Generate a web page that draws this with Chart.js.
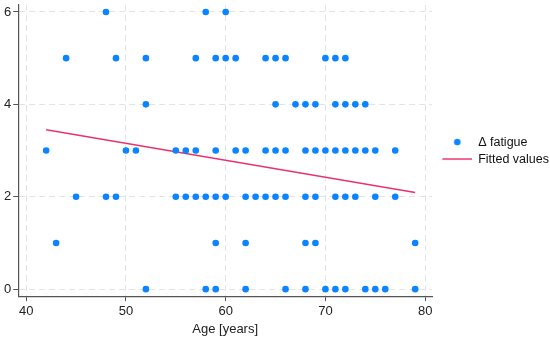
<!DOCTYPE html>
<html>
<head>
<meta charset="utf-8">
<script src="https://cdn.jsdelivr.net/npm/chart.js@4.4.1/dist/chart.umd.min.js"></script>
<style>
  html, body { margin: 0; padding: 0; background: #fff; }
  #wrap { width: 550px; height: 337px; }
</style>
</head>
<body>
<div id="wrap"><canvas id="c" width="550" height="337"></canvas></div>
<script>
// ages per fatigue-change level
const ages0 = [52, 58, 59, 62, 66, 68, 70, 71, 72, 74, 75, 76, 79];
const ages1 = [43, 59, 62, 68, 69, 79];
const ages2 = [45, 48, 49, 55, 56, 57, 58, 59, 60, 62, 63, 64, 65, 66, 68, 69, 71, 72, 73, 75, 77];
const ages3 = [42, 50, 51, 55, 56, 57, 59, 61, 62, 64, 65, 66, 68, 69, 70, 71, 72, 73, 74, 75, 77];
const ages4 = [52, 65, 67, 68, 69, 71, 72, 73, 74];
const ages5 = [44, 49, 52, 57, 59, 60, 61, 64, 65, 66, 70, 71, 72];
const ages6 = [48, 58, 60];

// fitted line end points
const fitX = [42, 79];
const fitY = [3.45, 2.09];

const xTicks = [40, 50, 60, 70, 80];
const yTicks = [0, 2, 4, 6];

const levels = [ages0, ages1, ages2, ages3, ages4, ages5, ages6];
const points = [];
levels.forEach((arr, lvl) => arr.forEach(a => points.push({ x: a, y: lvl })));
const fitted = fitX.map((x, i) => ({ x, y: fitY[i] }));

const BLUE = '#0a84ff';
const PINK = '#e8336e';
const FONT = 'Liberation Sans, Arial, sans-serif';

// little legend symbols
function symbol(kind) {
  const cv = document.createElement('canvas');
  cv.width = 35; cv.height = 10;
  const g = cv.getContext('2d');
  if (kind === 'dot') {
    g.fillStyle = BLUE;
    g.beginPath(); g.arc(20.5, 5, 3.3, 0, Math.PI * 2); g.fill();
  } else {
    g.strokeStyle = PINK; g.lineWidth = 1.5;
    g.beginPath(); g.moveTo(5.5, 5); g.lineTo(35, 5); g.stroke();
  }
  return cv;
}
const legendSyms = [symbol('dot'), symbol('line')];

// keep the legend centred on the plot area, not the whole canvas
const legendCenter = {
  id: 'legendCenter',
  afterLayout(chart) {
    const l = chart.legend;
    if (!l) return;
    l.top = chart.chartArea.top;
    l.bottom = chart.chartArea.bottom;
  }
};

const gridOpts = {
  color: '#e4e4e4',
  tickColor: '#555',
  tickBorderDash: [],
  tickLength: 5
};
const borderOpts = { color: '#555', width: 1.2, dash: [6, 4] };

new Chart(document.getElementById('c').getContext('2d'), {
  type: 'scatter',
  data: {
    datasets: [
      {
        label: 'Δ fatigue',
        data: points,
        backgroundColor: BLUE,
        borderColor: BLUE,
        pointRadius: 3.3,
        pointBorderWidth: 0
      },
      {
        label: 'Fitted values',
        type: 'line',
        data: fitted,
        borderColor: PINK,
        backgroundColor: PINK,
        borderWidth: 1.5,
        pointRadius: 0
      }
    ]
  },
  plugins: [legendCenter],
  options: {
    responsive: false,
    animation: false,
    layout: { padding: { top: 5, left: 2, right: -9, bottom: 0 } },
    plugins: {
      tooltip: { enabled: false },
      legend: {
        position: 'right',
        align: 'center',
        labels: {
          usePointStyle: true,
          pointStyleWidth: 35.25,
          padding: 4.5,
          color: '#111',
          font: { family: FONT, size: 12.5 },
          generateLabels: chart => chart.data.datasets.map((ds, i) => ({
            text: ds.label,
            datasetIndex: i,
            pointStyle: legendSyms[i],
            fillStyle: 'transparent',
            strokeStyle: 'transparent',
            lineWidth: 0,
            fontColor: '#111'
          }))
        }
      }
    },
    scales: {
      x: {
        type: 'linear',
        min: 39.2,
        max: 80.7,
        afterBuildTicks: s => { s.ticks = xTicks.map(v => ({ value: v })); },
        afterFit: s => { s.paddingLeft = 0; s.paddingRight = 0; },
        grid: gridOpts,
        border: borderOpts,
        ticks: {
          color: '#222',
          padding: 3,
          font: { family: FONT, size: 13 }
        },
        title: {
          display: true,
          text: 'Age [years]',
          color: '#222',
          padding: { top: 0, bottom: 0 },
          font: { family: FONT, size: 13, lineHeight: 1.1 }
        }
      },
      y: {
        min: -0.15,
        max: 6.15,
        afterBuildTicks: s => { s.ticks = yTicks.map(v => ({ value: v })); },
        afterFit: s => { s.paddingTop = 0; s.paddingBottom = 0; },
        grid: gridOpts,
        border: borderOpts,
        ticks: {
          color: '#222',
          padding: 2,
          font: { family: FONT, size: 13 }
        }
      }
    }
  }
});
</script>
</body>
</html>
